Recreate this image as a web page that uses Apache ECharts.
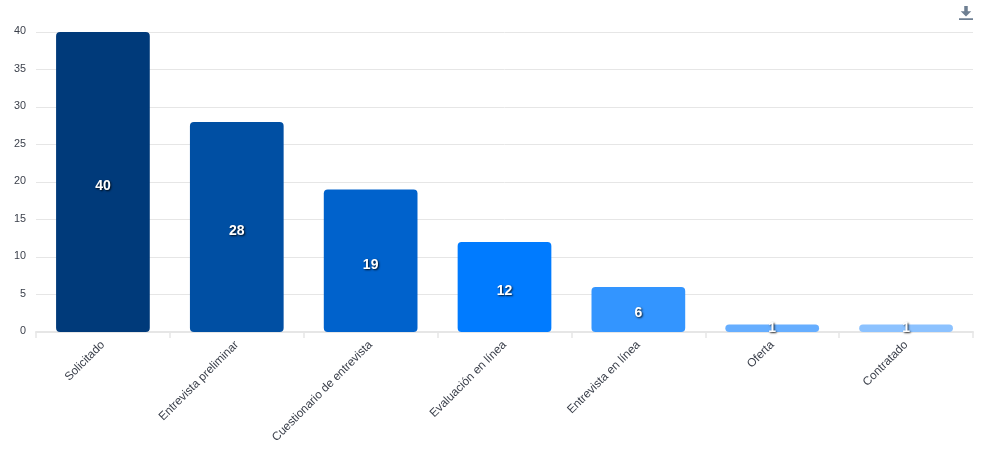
<!DOCTYPE html>
<html><head><meta charset="utf-8">
<style>html,body{margin:0;padding:0;background:#fff}#c{width:987px;height:450px}</style>
<script src="https://cdn.jsdelivr.net/npm/echarts@6/dist/echarts.min.js"></script>
</head><body><div id="c"></div>
<script>
const categories = ["Solicitado","Entrevista preliminar","Cuestionario de entrevista","Evaluación en línea","Entrevista en línea","Oferta","Contratado"];
const values = [40,28,19,12,6,1,1];
const barColors = ["#003a7a","#004fa3","#0062cc","#007bff","#3395ff","#66aeff","#8cc2ff"];
const chart = echarts.init(document.getElementById('c'),null,{renderer:'canvas'});
chart.setOption({
  animation:false,
  backgroundColor:'#fff',
  textStyle:{fontFamily:'"Liberation Sans",Arial,sans-serif'},
  toolbox:{show:true,right:14,top:6,padding:0,itemSize:14,feature:{saveAsImage:{title:'',icon:'path://M6 0H10V6H14L8 12L2 6H6ZM0 14H16V16H0Z',iconStyle:{color:'#6e7f92',borderColor:'#6e7f92',borderWidth:0}}}},
  grid:{left:36,right:14,top:32,bottom:118,containLabel:false},
  xAxis:{type:'category',data:categories,
    axisLine:{lineStyle:{color:'#e6e6e6',width:2}},
    axisTick:{show:true,length:6,lineStyle:{color:'#e6e6e6',width:1.5}},
    axisLabel:{rotate:45,interval:0,color:'#3a3f4a',fontSize:11.75,margin:11}},
  yAxis:{type:'value',min:0,max:40,interval:5,
    axisLine:{show:false},axisTick:{show:false},
    splitLine:{lineStyle:{color:'#e6e6e6',width:1}},
    axisLabel:{color:'#3a3f4a',fontSize:10.8,margin:10,verticalAlign:'bottom',lineHeight:11,padding:[0,0,-5,0]}},
  series:[{type:'bar',barWidth:'70%',
    data:values.map((v,i)=>({value:v,itemStyle:{color:barColors[i],borderRadius:4},label:{offset:[0,v>1?4:0]}})),
    label:{show:true,position:'inside',color:'#fff',fontWeight:'bold',fontSize:14,
      textShadowColor:'rgba(0,0,0,0.85)',textShadowBlur:2,textShadowOffsetX:1,textShadowOffsetY:1}}]
});
</script></body></html>
